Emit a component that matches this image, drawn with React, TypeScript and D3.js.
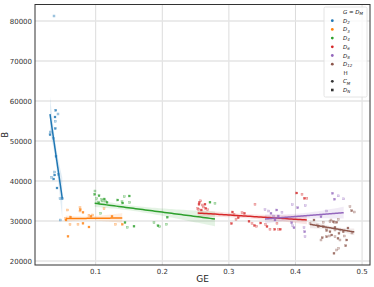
import React from 'react'
import * as d3 from 'd3'

// GE / B values, one pair of arrays per group
const d2GE = [0.0374, 0.040, 0.0434, 0.0389, 0.0393, 0.0393, 0.0318, 0.0314, 0.0363, 0.0404, 0.0384, 0.0384, 0.0339, 0.0369, 0.0438, 0.0419, 0.0464, 0.0498, 0.0468]
const d2B = [81250, 57675, 56750, 56000, 54925, 53125, 52250, 51575, 50675, 46175, 42250, 41500, 40925, 40500, 41675, 38250, 35575, 35575, 30250]

const d3GE = [0.0577, 0.0622, 0.055, 0.0554, 0.0614, 0.0584, 0.0764, 0.0769, 0.0764, 0.0809, 0.0734, 0.0809, 0.0899, 0.0929, 0.0955, 0.0899, 0.1125, 0.1245, 0.1297, 0.1399]
const d3B = [32750, 31000, 30575, 30250, 29125, 26175, 33325, 32825, 32500, 32175, 29175, 29425, 31425, 31175, 31500, 28500, 33075, 31175, 29175, 29175]

const d4GE = [0.0989, 0.0985, 0.1015, 0.105, 0.109, 0.1045, 0.1102, 0.1129, 0.1147, 0.117, 0.1075, 0.133, 0.1395, 0.1405, 0.1429, 0.1505, 0.1511, 0.144, 0.1474, 0.1575, 0.1875, 0.1935, 0.1961, 0.2075, 0.2063, 0.2716, 0.2791]
const d4B = [37500, 36675, 35575, 36325, 35425, 34575, 35050, 35500, 35000, 34675, 31925, 35250, 34825, 34500, 36075, 36250, 34625, 29625, 28425, 28700, 29575, 28825, 28575, 30950, 29200, 34700, 34425]

const d6GE = [0.2532, 0.2556, 0.2577, 0.2551, 0.2601, 0.2641, 0.2616, 0.2652, 0.2547, 0.2586, 0.2682, 0.3054, 0.3077, 0.3039, 0.3107, 0.3141, 0.3197, 0.3234, 0.3392, 0.3302, 0.3347, 0.3384, 0.3417, 0.3477, 0.355, 0.3572, 0.3617, 0.3688, 0.3745, 0.3772, 0.3722, 0.4018, 0.4098, 0.4135, 0.417]
const d6B = [33175, 34625, 35050, 34175, 34000, 34200, 33500, 33175, 32950, 32750, 32825, 32250, 31625, 29375, 30425, 30825, 32075, 31925, 34175, 29925, 29375, 28875, 28675, 29500, 29125, 28625, 27925, 27925, 27925, 27925, 29425, 37000, 36675, 35675, 35675]

const d8GE = [0.3598, 0.3632, 0.3673, 0.3742, 0.3797, 0.3692, 0.3542, 0.3718, 0.3952, 0.4033, 0.4147, 0.3943, 0.3958, 0.3977, 0.4128, 0.4138, 0.4143, 0.4383, 0.4468, 0.4556, 0.4643, 0.4586, 0.4724]
const d8B = [32500, 31925, 31250, 31250, 32175, 30250, 32825, 32750, 34075, 33325, 33825, 29575, 28825, 28325, 28325, 27325, 26075, 31075, 32500, 36925, 36300, 35450, 35550]

const d12GE = [0.4218, 0.4278, 0.4327, 0.4342, 0.4417, 0.4417, 0.4468, 0.4468, 0.4518, 0.4518, 0.4533, 0.4568, 0.4583, 0.4593, 0.4593, 0.4619, 0.4643, 0.4653, 0.4668, 0.4718, 0.4733, 0.4402, 0.4383, 0.4468, 0.4508, 0.4544, 0.4593, 0.4638, 0.4668, 0.4769, 0.4619, 0.4578, 0.4649, 0.4754, 0.4818, 0.4844, 0.4883, 0.4788, 0.4848]
const d12B = [29375, 30250, 29000, 28625, 29675, 28575, 28175, 27625, 29825, 27325, 30250, 29825, 29675, 28425, 27750, 29675, 30425, 26925, 27750, 27325, 26250, 25825, 25250, 26075, 26250, 26500, 26075, 25675, 25250, 25250, 22750, 21925, 23175, 23825, 33575, 32575, 32250, 28250, 27000]

// fitted regression line, B at the group's lowest and highest GE
const fitLoB = [56700, 30600, 34425, 32000, 30500, 29175]
const fitHiB = [35700, 30750, 30500, 30250, 32075, 27250]

const groupNames = ['D2', 'D3', 'D4', 'D6', 'D8', 'D12']
const groupSubs = ['2', '3', '4', '6', '8', '12']
const groupColors = ['#1f77b4', '#ff7f0e', '#2ca02c', '#d62728', '#9467bd', '#8c564b']
const groupGE = [d2GE, d3GE, d4GE, d6GE, d8GE, d12GE]
const groupB = [d2B, d3B, d4B, d6B, d8B, d12B]

const xTicks = [0.1, 0.2, 0.3, 0.4, 0.5]
const yTicks = [20000, 30000, 40000, 50000, 60000, 70000, 80000]

const W = 374, H = 287
const m = { left: 35, right: 4, top: 4.5, bottom: 22 }

function band(xs: number[], ys: number[], bLo: number, bHi: number) {
  const n = xs.length
  const lo = d3.min(xs) as number, hi = d3.max(xs) as number
  const b1 = (bHi - bLo) / (hi - lo)
  const b0 = bLo - b1 * lo
  const mx = d3.mean(xs) as number
  let sxx = 0
  xs.forEach(x => { sxx += (x - mx) ** 2 })
  const res = xs.map((x, i) => Math.abs(ys[i] - b0 - b1 * x))
  const s = (d3.median(res) as number) * 1.48
  const grid = d3.range(0, 51).map(k => lo + (hi - lo) * k / 50)
  return grid.map(x => {
    const yh = b0 + b1 * x
    const se = s * Math.sqrt(1 / n + (x - mx) ** 2 / sxx)
    return { x, y: yh, y0: yh - 1.0 * se, y1: yh + 1.0 * se }
  })
}

export default function App() {
  const x = d3.scaleLinear().domain([0.00886, 0.5119]).range([m.left, W - m.right])
  const y = d3.scaleLinear().domain([19000, 84125]).range([H - m.bottom, m.top])
  const line = d3.line<any>().x(d => x(d.x)).y(d => y(d.y))
  const area = d3.area<any>().x(d => x(d.x)).y0(d => y(d.y0)).y1(d => y(d.y1))
  const font = 'DejaVu Sans, sans-serif'

  return (
    <svg width={W} height={H} style={{ position: 'absolute', left: 0, top: 0, background: '#fff' }}>
      <g>
        {xTicks.map(t => (
          <line key={'gx' + t} x1={x(t)} x2={x(t)} y1={m.top} y2={H - m.bottom} stroke="#dcdcdc" strokeWidth={1} />
        ))}
        {yTicks.map(t => (
          <line key={'gy' + t} x1={m.left} x2={W - m.right} y1={y(t)} y2={y(t)} stroke="#e4e4e4" strokeWidth={1.5} />
        ))}
      </g>
      {groupNames.map((g, gi) => {
        const pts = band(groupGE[gi], groupB[gi], fitLoB[gi], fitHiB[gi])
        return (
          <g key={g}>
            {groupGE[gi].map((v, i) => (
              <rect key={i} x={x(v) - 1} y={y(groupB[gi][i]) - 1} width={2} height={2}
                fill={groupColors[gi]} fillOpacity={i % 2 ? 0.8 : 0.3} stroke={groupColors[gi]} strokeOpacity={0.55} strokeWidth={0.4} />
            ))}
            <path d={area(pts) || ''} fill={groupColors[gi]} fillOpacity={0.13} />
            <path d={line(pts) || ''} fill="none" stroke={groupColors[gi]} strokeWidth={1.5} />
          </g>
        )
      })}
      <rect x={m.left} y={m.top} width={W - m.left - m.right} height={H - m.top - m.bottom} fill="none" stroke="#333" strokeWidth={1} />
      {xTicks.map(t => (
        <text key={'tx' + t} x={x(t)} y={H - m.bottom + 9} fontSize={7} fontFamily={font} fill="#333" textAnchor="middle">{t}</text>
      ))}
      {yTicks.map(t => (
        <text key={'ty' + t} x={m.left - 3} y={y(t) + 2.5} fontSize={7} fontFamily={font} fill="#333" textAnchor="end">{t}</text>
      ))}
      <text x={(m.left + W - m.right) / 2} y={282} fontSize={9} fontFamily={font} fill="#222" textAnchor="middle">GE</text>
      <text transform={`translate(8,${(m.top + H - m.bottom) / 2}) rotate(-90)`} fontSize={8} fontFamily={font} fill="#222" textAnchor="middle">B</text>
      <g fontFamily={font} fontSize={5.5} fill="#222">
        <rect x={324} y={7} width={43} height={90} rx={1.5} fill="#fff" fillOpacity={0.8} stroke="#dddddd" strokeWidth={0.8} />
        <text x={343} y={13.5} fontStyle="italic">G = D<tspan fontSize={4} dy={1.2}>M</tspan></text>
        {groupNames.map((g, gi) => (
          <g key={'lg' + g}>
            <circle cx={332.3} cy={20.7 + gi * 8.7} r={1.4} fill={groupColors[gi]} />
            <text x={343} y={22.7 + gi * 8.7} fontStyle="italic">D<tspan fontSize={4} dy={1.2}>{groupSubs[gi]}</tspan></text>
          </g>
        ))}
        <text x={343.5} y={74.7}>H</text>
        <circle cx={332.3} cy={81.3} r={1.4} fill="#333" />
        <text x={343} y={83.3} fontStyle="italic">C<tspan fontSize={4} dy={1.2}>M</tspan></text>
        <rect x={331} y={88.7} width={2.6} height={2.6} fill="#333" />
        <text x={343} y={92} fontStyle="italic">D<tspan fontSize={4} dy={1.2}>N</tspan></text>
      </g>
    </svg>
  )
}
